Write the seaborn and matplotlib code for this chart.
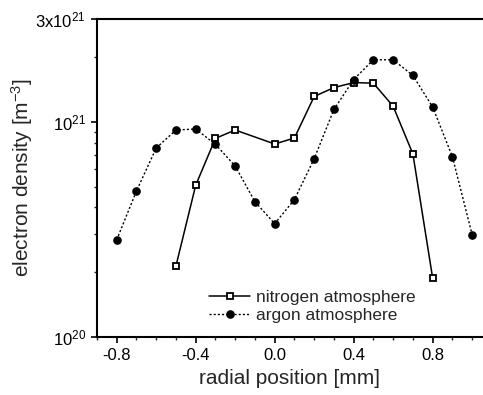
import matplotlib
matplotlib.use("Agg")
import matplotlib.pyplot as plt
import matplotlib.ticker as mticker
import numpy as np
import pandas as pd
import seaborn as sns

# ---- data ----
nitrogen_x = [-0.5, -0.4, -0.3, -0.2, 0.0, 0.1, 0.2, 0.3, 0.4, 0.5, 0.6, 0.7, 0.8]
nitrogen_y = [2.14e20, 5.07e20, 8.37e20, 9.15e20, 7.88e20, 8.4e20, 1.31e21, 1.44e21,
              1.52e21, 1.51e21, 1.18e21, 7.08e20, 1.88e20]
argon_x = [-0.8, -0.7, -0.6, -0.5, -0.4, -0.3, -0.2, -0.1, 0.0, 0.1, 0.2, 0.3, 0.4,
           0.5, 0.6, 0.7, 0.8, 0.9, 1.0]
argon_y = [2.83e20, 4.77e20, 7.55e20, 9.15e20, 9.25e20, 7.85e20, 6.22e20, 4.25e20,
           3.36e20, 4.35e20, 6.73e20, 1.14e21, 1.57e21, 1.94e21, 1.94e21, 1.64e21,
           1.17e21, 6.88e20, 2.99e20]
labels = ["nitrogen atmosphere", "argon atmosphere"]
xtick_vals = [-0.8, -0.4, 0.0, 0.4, 0.8]
ytick_vals = [1e20, 1e21, 3e21]
ytick_labels = ["10$^{20}$", "10$^{21}$", "3x10$^{21}$"]

sns.set_style("ticks")
plt.rcParams["font.family"] = ["Liberation Sans", "DejaVu Sans"]
plt.rcParams["mathtext.fontset"] = "custom"
plt.rcParams["mathtext.rm"] = "Liberation Sans"
plt.rcParams["mathtext.it"] = "Liberation Sans"
plt.rcParams["mathtext.default"] = "regular"

fig = plt.figure(figsize=(4.83, 3.95), dpi=100)
ax = fig.add_axes([97 / 483, (395 - 337) / 395, (482 - 97) / 483, (337 - 19) / 395])

df_n = pd.DataFrame({"x": nitrogen_x, "y": nitrogen_y})
df_a = pd.DataFrame({"x": argon_x, "y": argon_y})

sns.lineplot(data=df_n, x="x", y="y", ax=ax, color="black", lw=1.1,
             linestyle="-", marker="s", markersize=5, markerfacecolor="white",
             markeredgecolor="black", markeredgewidth=1.3, label=labels[0])
sns.lineplot(data=df_a, x="x", y="y", ax=ax, color="black", lw=1.0,
             linestyle=(0, (1.5, 1.5)), marker="o", markersize=5.2,
             markerfacecolor="black", markeredgecolor="black",
             markeredgewidth=1.0, label=labels[1])

ax.set_yscale("log")
ax.set_ylim(1e20, 3e21)
ax.set_xlim(-0.9, 1.05)
ax.set_xticks(xtick_vals)
ax.set_xticklabels([f"{v:.1f}" for v in xtick_vals])
ax.xaxis.set_minor_locator(mticker.MultipleLocator(0.1))
ax.set_yticks(ytick_vals)
ax.set_yticklabels(ytick_labels)
ax.yaxis.set_minor_locator(mticker.LogLocator(base=10, subs=np.arange(2, 10)))
ax.yaxis.set_minor_formatter(mticker.NullFormatter())

ax.tick_params(axis="both", which="major", direction="out", length=4.5, width=1.2,
               labelsize=12, colors="black")
ax.tick_params(axis="both", which="minor", direction="out", length=2.5, width=1.0)

for side in ["left", "bottom", "top"]:
    ax.spines[side].set_linewidth(1.5)
    ax.spines[side].set_color("black")
ax.spines["right"].set_visible(False)

ax.set_xlabel("radial position [mm]", fontsize=15, labelpad=4)
ax.set_ylabel("electron density [m$^{-3}$]", fontsize=15, labelpad=0)

leg = ax.legend(loc="upper left", bbox_to_anchor=(200 / 483, 1 - 281 / 395),
                bbox_transform=fig.transFigure, frameon=False, fontsize=12.5,
                handlelength=2.4, handletextpad=0.3, labelspacing=0.15,
                borderpad=0.0)

fig.savefig("out.png", dpi=100)
